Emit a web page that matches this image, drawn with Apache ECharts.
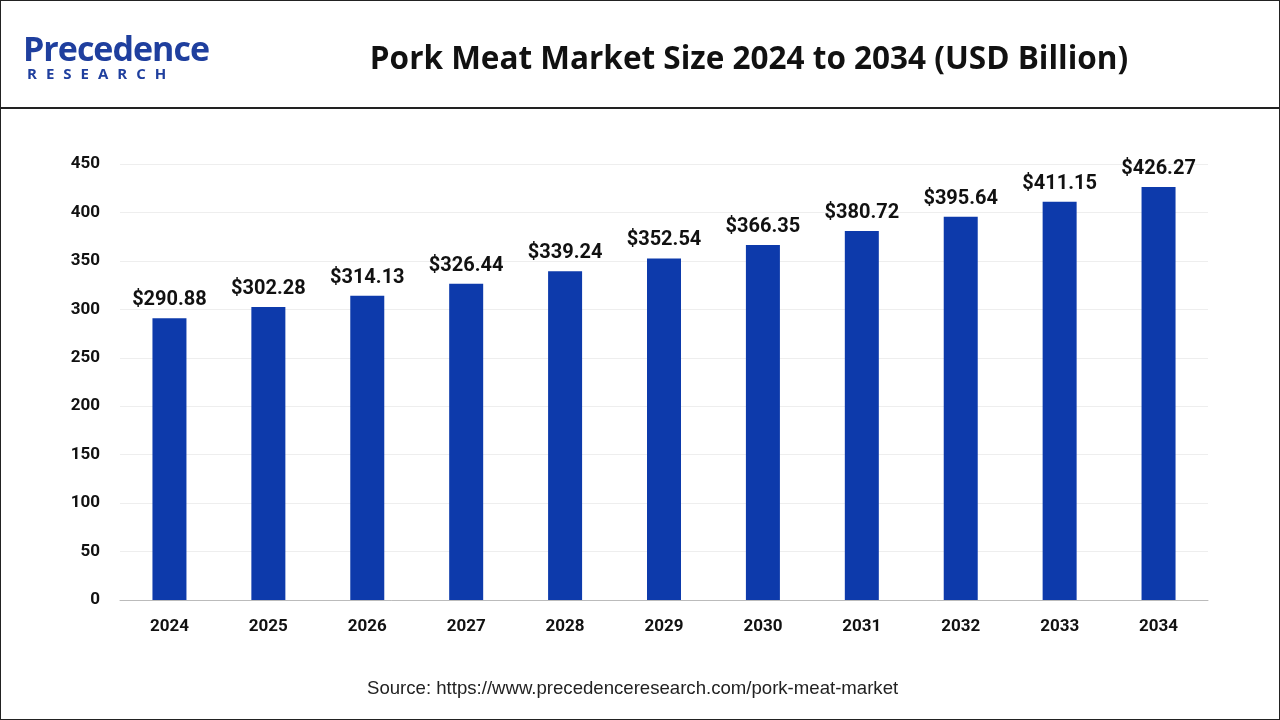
<!DOCTYPE html>
<html><head><meta charset="utf-8">
<script src="https://cdn.jsdelivr.net/npm/echarts@6/dist/echarts.min.js"></script>
<style>
html,body{margin:0;padding:0;background:#fff;}
#wrap{position:absolute;left:0;top:0;width:1278px;height:718px;border:1px solid #222;}
#hdr{position:absolute;left:0;top:0;width:1278px;height:106px;border-bottom:2px solid #222;}
#title{position:absolute;left:300px;width:896px;top:34px;text-align:center;font:bold 31.5px "Open Sans",Roboto,sans-serif;color:#111;}
#logo1{position:absolute;left:22px;top:24px;font:bold 34px "Open Sans",sans-serif;color:#1f3f9e;letter-spacing:-1px;}
#logo2{position:absolute;left:26px;top:62px;font:bold 15px "Open Sans",sans-serif;color:#1f3f9e;letter-spacing:9px;}
#chart{position:absolute;left:0;top:0;width:1280px;height:720px;}
</style></head><body>
<div id="chart"></div>
<div id="wrap"><div id="hdr"><div id="logo1">Precedence</div><div id="logo2">RESEARCH</div><div id="title">Pork Meat Market Size 2024 to 2034 (USD Billion)</div></div></div>
<script>
const categories=['2024','2025','2026','2027','2028','2029','2030','2031','2032','2033','2034'];
const values=[290.88,302.28,314.13,326.44,339.24,352.54,366.35,380.72,395.64,411.15,426.27];
const c=echarts.init(document.getElementById('chart'));
c.setOption({
grid:{left:120,right:72,top:164,bottom:120},
xAxis:{type:'category',data:categories,axisTick:{show:false},axisLine:{lineStyle:{color:'#bbb'}},
 axisLabel:{color:'#111',fontWeight:'bold',fontSize:17,margin:18,fontFamily:'Roboto'}},
yAxis:{type:'value',min:0,max:450,interval:50,axisLabel:{color:'#111',fontWeight:'bold',fontSize:17,margin:20,fontFamily:'Roboto'},
 splitLine:{lineStyle:{color:'#eee'}}},
series:[{type:'bar',data:values,barWidth:34,itemStyle:{color:'#0d3aab'},
 label:{show:true,position:'top',formatter:p=>'$'+p.value.toFixed(2),color:'#111',fontWeight:'bold',fontSize:20,fontFamily:'Roboto',distance:8}}],
graphic:[{type:'text',left:367,top:679,style:{text:'Source: https://www.precedenceresearch.com/pork-meat-market',fill:'#222',font:'18.6px "Liberation Sans"'}}]
});
</script></body></html>
